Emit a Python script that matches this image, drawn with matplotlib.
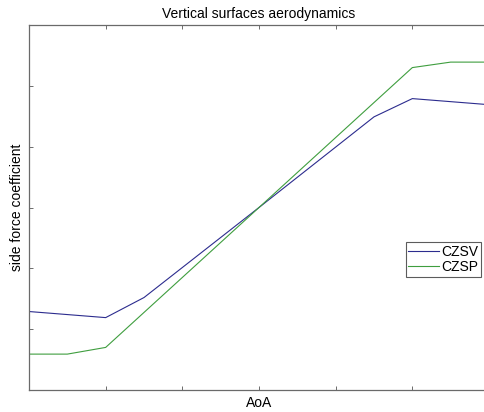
import matplotlib
matplotlib.use("Agg")
import matplotlib.pyplot as plt

plt.rcParams['font.family'] = ['Liberation Sans', 'DejaVu Sans']

# angle of attack breakpoints (deg) and side force coefficients
aoa_v = [-30, -20, -15, 0, 15, 20, 30]
czsv = [-0.855, -0.905, -0.74, 0.0, 0.745, 0.895, 0.845]

aoa_p = [-30, -25, -20, 0, 20, 25, 30]
czsp = [-1.205, -1.205, -1.15, 0.0, 1.15, 1.195, 1.195]

fig = plt.figure(figsize=(4.84, 4.12), dpi=100)
# axes runs a bit past the right edge of the figure
ax = fig.add_axes([29 / 484, 1 - 390 / 412, 460 / 484, 365 / 412])

ax.plot(aoa_v, czsv, color='#2c2c8e', lw=0.8, label='CZSV')
ax.plot(aoa_p, czsp, color='#3f9e3f', lw=0.8, label='CZSP')

ax.set_xlim(-30, 30)
ax.set_ylim(-1.5, 1.5)
ax.set_xticks(range(-30, 31, 10))
ax.set_yticks([-1.5, -1.0, -0.5, 0.0, 0.5, 1.0, 1.5])
ax.set_xticklabels([])
ax.set_yticklabels([])
ax.tick_params(direction='in', length=3, width=0.6, color='#555555',
               top=True, right=True)
for s in ax.spines.values():
    s.set_color('#6a6a6a')
    s.set_linewidth(0.9)

ax.set_title('Vertical surfaces aerodynamics', fontsize=10, pad=5)
ax.set_xlabel('AoA', fontsize=10, labelpad=1)
ax.set_ylabel('side force coefficient', fontsize=10, labelpad=0)

leg = ax.legend(loc='upper left', bbox_to_anchor=(405.5 / 484, 1 - 242 / 412),
                bbox_transform=fig.transFigure, fontsize=10, frameon=True,
                fancybox=False, handlelength=2.2, handletextpad=0.2,
                labelspacing=0.1, borderpad=0.2, borderaxespad=0)
leg.get_frame().set_edgecolor('#333333')
leg.get_frame().set_linewidth(0.8)

fig.savefig('out.png', dpi=100)
